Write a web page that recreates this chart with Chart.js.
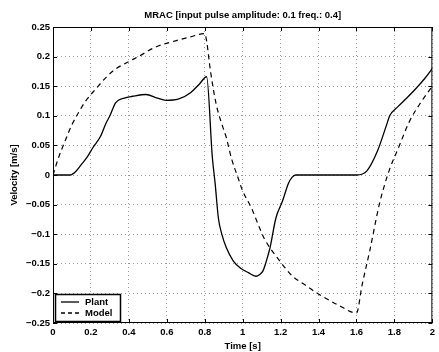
<!DOCTYPE html>
<html>
<head>
<meta charset="utf-8">
<script src="https://cdn.jsdelivr.net/npm/chart.js@4/dist/chart.umd.min.js"></script>
<style>
  html, body { margin: 0; padding: 0; background: #fff; }
  #wrap { width: 439px; height: 352px; }
</style>
</head>
<body>
<div id="wrap"><canvas id="chart"></canvas></div>
<script>
// values
const plantT = [0, 0.05, 0.09, 0.12, 0.15, 0.18, 0.21, 0.25, 0.28, 0.3, 0.33, 0.376, 0.42, 0.49, 0.55, 0.595, 0.66, 0.725, 0.77, 0.81,
                0.84, 0.855, 0.872, 0.89, 0.914, 0.95, 0.987, 1.03, 1.07, 1.09, 1.107, 1.125, 1.144, 1.175, 1.21, 1.24, 1.26, 1.28,
                1.4, 1.6, 1.655, 1.71, 1.76, 1.775, 1.82, 1.865, 1.916, 1.96, 2.0];
const plantV = [0, 0, 0, 0.006, 0.018, 0.03, 0.046, 0.065, 0.088, 0.1, 0.122, 0.13, 0.133, 0.136, 0.13, 0.126, 0.128, 0.139, 0.153, 0.166,
                0.03, -0.015, -0.073, -0.1, -0.123, -0.145, -0.157, -0.165, -0.171, -0.168, -0.162, -0.145, -0.123, -0.073, -0.044, -0.015, -0.004, 0,
                0, 0, 0.007, 0.04, 0.086, 0.1, 0.116, 0.13, 0.147, 0.163, 0.18];
const modelT = [0, 0.03, 0.063, 0.1, 0.125, 0.17, 0.23, 0.28, 0.33, 0.39, 0.45, 0.54, 0.65, 0.72, 0.8,
                0.81, 0.83, 0.86, 0.89, 0.914, 0.94, 0.976, 1.0, 1.045, 1.09, 1.115, 1.195, 1.26, 1.33, 1.395, 1.5, 1.6,
                1.63, 1.67, 1.72, 1.745, 1.775, 1.82, 1.88, 1.94, 2.0];
const modelV = [0, 0.03, 0.057, 0.085, 0.1, 0.124, 0.147, 0.165, 0.179, 0.19, 0.2, 0.216, 0.227, 0.233, 0.239,
                0.226, 0.176, 0.12, 0.086, 0.063, 0.029, -0.005, -0.027, -0.055, -0.09, -0.108, -0.145, -0.17, -0.186, -0.2, -0.219, -0.233,
                -0.185, -0.128, -0.05, -0.02, 0.01, 0.045, 0.091, 0.123, 0.15];
const xTicks = [0, 0.2, 0.4, 0.6, 0.8, 1, 1.2, 1.4, 1.6, 1.8, 2];
const yTicks = [-0.25, -0.2, -0.15, -0.1, -0.05, 0, 0.05, 0.1, 0.15, 0.2, 0.25];
const seriesNames = ['Plant', 'Model'];
const titleText = 'MRAC [input pulse amplitude: 0.1 freq.: 0.4]';

const FONT = "'Liberation Sans', Arial, sans-serif";
const TXT = { family: FONT, size: 9.5, weight: 'bold' };

function pts(t, v) { return t.map((x, i) => ({ x: x, y: v[i] })); }

// title over the plot box, frame, inward ticks and legend box like matlab
const framePlugin = {
  id: 'frame',
  afterDatasetsDraw(chart) {
    const ctx = chart.ctx, a = chart.chartArea;
    const xs = chart.scales.x, ys = chart.scales.y;
    ctx.save();
    ctx.strokeStyle = '#000';
    ctx.lineWidth = 1;
    ctx.strokeRect(a.left + 0.5, a.top + 0.5, a.right - a.left - 1, a.bottom - a.top - 1);
    ctx.beginPath();
    xTicks.forEach(v => {
      const px = Math.round(xs.getPixelForValue(v)) + 0.5;
      ctx.moveTo(px, a.bottom); ctx.lineTo(px, a.bottom - 4);
      ctx.moveTo(px, a.top); ctx.lineTo(px, a.top + 4);
    });
    yTicks.forEach(v => {
      const py = Math.round(ys.getPixelForValue(v)) + 0.5;
      ctx.moveTo(a.left, py); ctx.lineTo(a.left + 4, py);
      ctx.moveTo(a.right, py); ctx.lineTo(a.right - 4, py);
    });
    ctx.stroke();

    ctx.font = 'bold 9.5px ' + FONT;
    ctx.fillStyle = '#000';
    ctx.textAlign = 'center';
    ctx.textBaseline = 'middle';
    ctx.fillText(titleText, (a.left + a.right) / 2, 15);

    // legend
    const lx = a.left + 2, ly = a.bottom - 29, lw = 66, lh = 28;
    ctx.fillStyle = '#fff';
    ctx.fillRect(lx, ly, lw, lh);
    ctx.lineWidth = 1.5;
    ctx.strokeRect(lx + 0.5, ly + 0.5, lw - 1, lh - 1);
    ctx.fillStyle = '#000';
    ctx.textAlign = 'left';
    const rows = [ly + 8, ly + 19];
    ctx.lineWidth = 1.3;
    rows.forEach((ry, i) => {
      ctx.setLineDash(i === 0 ? [] : [4, 3]);
      ctx.beginPath();
      ctx.moveTo(lx + 6, ry); ctx.lineTo(lx + 24, ry);
      ctx.stroke();
      ctx.setLineDash([]);
      ctx.fillText(seriesNames[i], lx + 30, ry);
    });
    ctx.restore();
  }
};

new Chart(document.getElementById('chart'), {
  type: 'scatter',
  data: {
    datasets: [{
      label: seriesNames[0],
      data: pts(plantT, plantV),
      showLine: true,
      borderColor: '#000',
      borderWidth: 1.3,
      pointRadius: 0,
      cubicInterpolationMode: 'monotone'
    }, {
      label: seriesNames[1],
      data: pts(modelT, modelV),
      showLine: true,
      borderColor: '#000',
      borderWidth: 1.2,
      borderDash: [5, 4],
      pointRadius: 0,
      cubicInterpolationMode: 'monotone'
    }]
  },
  options: {
    responsive: true,
    maintainAspectRatio: false,
    animation: false,
    layout: { padding: { left: 5, right: 3, top: 27, bottom: 0 } },
    plugins: {
      legend: { display: false },
      tooltip: { enabled: false },
      title: { display: false }
    },
    scales: {
      x: {
        type: 'linear',
        min: 0, max: 2,
        afterBuildTicks: s => { s.ticks = xTicks.map(v => ({ value: v })); },
        afterFit: s => { s.height = 29; },
        grid: { color: '#999', drawTicks: false, lineWidth: 1 },
        border: { display: false, dash: [1, 3] },
        ticks: { color: '#000', padding: 4, font: TXT, callback: v => String(v) },
        title: { display: true, text: 'Time [s]', color: '#000', font: TXT, padding: 0 }
      },
      y: {
        min: -0.25, max: 0.25,
        afterBuildTicks: s => { s.ticks = yTicks.map(v => ({ value: v })); },
        afterFit: s => { s.width = 48; },
        grid: { color: '#999', drawTicks: false, lineWidth: 1 },
        border: { display: false, dash: [1, 3] },
        ticks: { color: '#000', padding: 3, font: TXT,
                 callback: v => (v < 0 ? '\u2212' : '') + String(Math.abs(Math.round(v * 100) / 100)) },
        title: { display: true, text: 'Velocity [m/s]', color: '#000', font: TXT, padding: 4 }
      }
    }
  },
  plugins: [framePlugin]
});
</script>
</body>
</html>
